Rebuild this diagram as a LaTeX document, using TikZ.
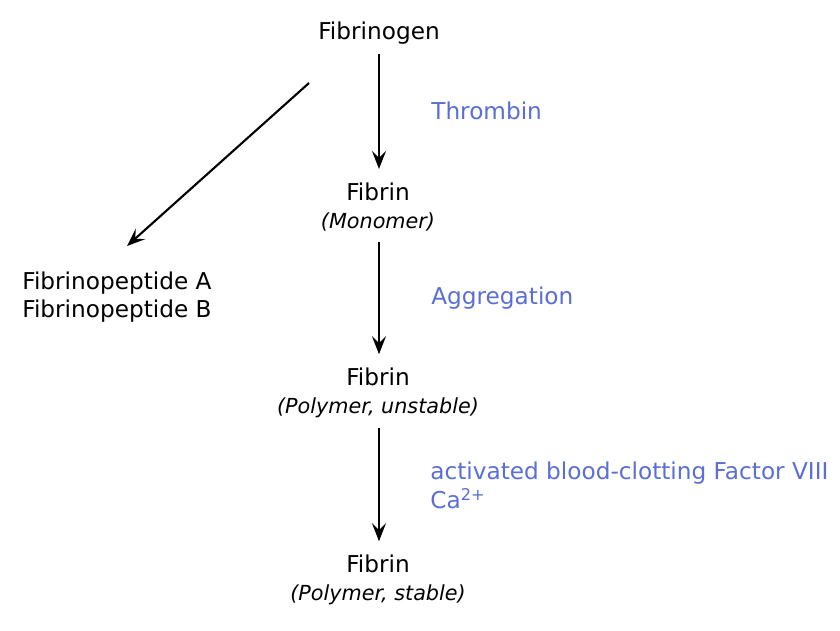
\documentclass[tikz,border=0pt]{standalone}
\usepackage{fontspec}
\setmainfont{DejaVu Sans}
\usepackage{xcolor}
\usetikzlibrary{arrows.meta}
\definecolor{enzBlue}{HTML}{5A6ED6}
\newcommand\fibform[1]{{\fontsize{11.8}{16.3}\selectfont\itshape #1}}
\tikzset{
  stage/.style={align=center, inner sep=4pt,
        font=\fontsize{13.2}{16.3}\selectfont},
  enzyme/.style={anchor=west, align=left, inner sep=0pt, text=enzBlue,
        font=\fontsize{13.2}{16.5}\selectfont},
  react/.style={-{Stealth[length=3.6mm, width=2.8mm, inset=1.4mm]},
        line width=1.2pt, draw=black},
  gap/.style={shorten <=1.5pt, shorten >=3.5pt}
}

\begin{document}
\begin{tikzpicture}[x=0.02cm, y=-0.02cm]
\useasboundingbox (0,0) rectangle (840,630);

\node[stage] (fg)    at (379,33)  {Fibrinogen};
\node[stage] (fmono) at (378,207) {Fibrin\\ \fibform{(Monomer)}};
\node[stage] (funst) at (378,393) {Fibrin\\ \fibform{(Polymer, unstable)}};
\node[stage] (fstab) at (378,580) {Fibrin\\ \fibform{(Polymer, stable)}};
\node[stage, anchor=west, align=left, inner sep=0pt] (pep) at (22,297)
      {Fibrinopeptide A\\ Fibrinopeptide B};

\node[enzyme] (thr) at (431,111) {Thrombin};
\node[enzyme] (agg) at (431,298) {Aggregation};
\node[enzyme] (f8)  at (430,485) {activated blood-clotting Factor VIII\\ Ca\textsuperscript{2+}};

\coordinate (split) at (309,83);
\coordinate (pepin) at (127,246);

\draw[react, gap] (fg.south) -- (fg.south |- fmono.north);
\draw[react, gap] (fg.south |- fmono.south) -- (fg.south |- funst.north);
\draw[react, gap] (fg.south |- funst.south) -- (fg.south |- fstab.north);
\draw[react] (split) -- (pepin);
\end{tikzpicture}
\end{document}
